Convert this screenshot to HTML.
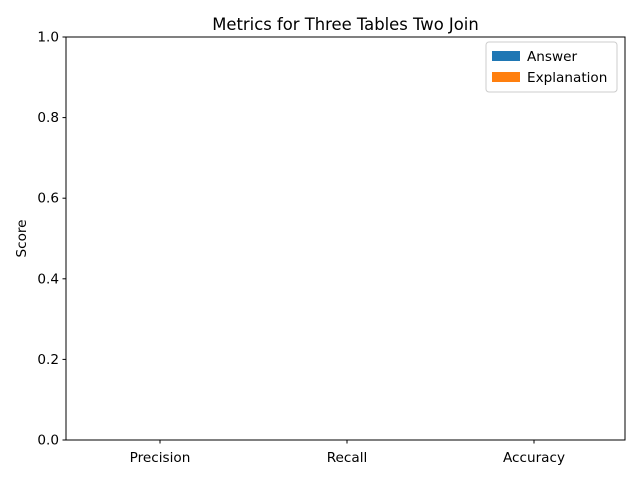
<!DOCTYPE html>
<html><head><meta charset="utf-8"><style>
body{margin:0;background:#fff;}
text{font-family:"DejaVu Sans","Liberation Sans",sans-serif;}
</style></head><body>
<svg id="chart" width="640" height="480" xmlns="http://www.w3.org/2000/svg">
<rect x="0" y="0" width="640" height="480" fill="#fff"/>
<text x="345.5" y="30" font-size="16.4" text-anchor="middle">Metrics for Three Tables Two Join</text>
<g id="bars"></g>
<rect x="66" y="37" width="559" height="403" fill="none" stroke="#000" stroke-width="1"/>
<g id="yticks"></g>
<g id="xticks"></g>
<text transform="translate(26,238.5) rotate(-90)" font-size="13.6" text-anchor="middle">Score</text>
<g>
<rect x="486" y="42" width="131" height="50" rx="3" fill="#fff" stroke="#ccc"/>
<g>
<rect x="492" y="51" width="28" height="10" fill="#1f77b4"/>
<text x="527" y="61" font-size="13.6">Answer</text></g>
<g>
<rect x="492" y="72" width="28" height="10" fill="#ff7f0e"/>
<text x="527" y="82" font-size="13.6">Explanation</text></g>
</g>
</svg>
<script>
const categories=["Precision","Recall","Accuracy"];
const answerValues=[0,0,0];
const explanationValues=[0,0,0];
const yTicks=[0,0.2,0.4,0.6,0.8,1.0];
const yTickLabels=["0.0","0.2","0.4","0.6","0.8","1.0"];
const NS="http://www.w3.org/2000/svg";
const y=v=>440-v*403;
const x=i=>160+187*i;
const bw=65;
function mk(tag,attrs,parent){const e=document.createElementNS(NS,tag);for(const k in attrs)e.setAttribute(k,attrs[k]);parent.appendChild(e);return e;}
const bars=document.getElementById('bars');
categories.forEach((c,i)=>{
 let a=mk('rect',{x:x(i)-bw,y:y(answerValues[i]),width:bw,height:440-y(answerValues[i]),fill:'#1f77b4'},bars);
 
 
 let b=mk('rect',{x:x(i),y:y(explanationValues[i]),width:bw,height:440-y(explanationValues[i]),fill:'#ff7f0e'},bars);
 
 
});
const yt=document.getElementById('yticks');
yTicks.forEach((t,i)=>{
 const g=mk('g',{},yt);
 
 
 mk('line',{x1:62.5,x2:66,y1:y(t),y2:y(t),stroke:'#000'},g);
 const tx=mk('text',{x:59,y:y(t)+4.5,'font-size':13.6,'text-anchor':'end'},g);tx.textContent=yTickLabels[i];
});
const xt=document.getElementById('xticks');
categories.forEach((c,i)=>{
 const g=mk('g',{},xt);
 
 
 mk('line',{x1:x(i),x2:x(i),y1:440,y2:443.5,stroke:'#000'},g);
 const tx=mk('text',{x:x(i),y:462,'font-size':13.6,'text-anchor':'middle'},g);tx.textContent=c;
});
</script>
</body></html>
